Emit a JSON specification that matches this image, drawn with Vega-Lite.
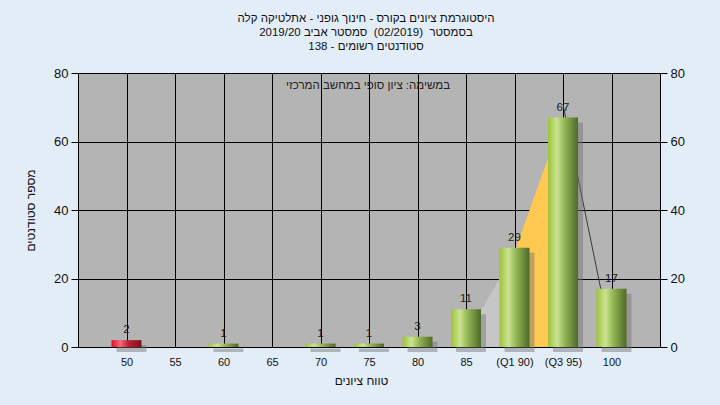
{
  "$schema": "https://vega.github.io/schema/vega-lite/v6.json",
  "width": 582,
  "height": 274,
  "autosize": "none",
  "padding": {"left": 78, "top": 73, "right": 60, "bottom": 58},
  "background": "#e3edf8",
  "config": {
    "font": "Liberation Sans",
    "view": {"fill": "#b4b4b4", "stroke": null}
  },
  "title": {
    "text": ["היסטוגרמת ציונים בקורס - חינוך גופני - אתלטיקה קלה", "בסמסטר \u00a0(02/2019)\u00a0 סמסטר אביב 2019/20", "סטודנטים רשומים - 138"],
    "fontSize": 11.5,
    "fontWeight": "normal",
    "color": "#111111",
    "anchor": "middle",
    "lineHeight": 14,
    "offset": 15,
    "dx": -3
  },
  "datasets": {
    "bars": [
      {"grade": 50, "count": 2, "kind": "fail"},
      {"grade": 55, "count": 0, "kind": "pass"},
      {"grade": 60, "count": 1, "kind": "pass"},
      {"grade": 65, "count": 0, "kind": "pass"},
      {"grade": 70, "count": 1, "kind": "pass"},
      {"grade": 75, "count": 1, "kind": "pass"},
      {"grade": 80, "count": 3, "kind": "pass"},
      {"grade": 85, "count": 11, "kind": "pass"},
      {"grade": 90, "count": 29, "kind": "pass"},
      {"grade": 95, "count": 67, "kind": "pass"},
      {"grade": 100, "count": 17, "kind": "pass"}
    ],
    "box": [
      {"grade": 85, "v": 3, "seg": "low"},
      {"grade": 90, "v": 27.5, "seg": "low"},
      {"grade": 90, "v": 27.7, "seg": "mid"},
      {"grade": 95, "v": 67.5, "seg": "mid"},
      {"grade": 95, "v": 70.8, "seg": "high"},
      {"grade": 100, "v": 1.7, "seg": "high"}
    ]
  },
  "resolve": {"axis": {"y": "independent"}},
  "layer": [
    {
      "data": {"name": "box"},
      "transform": [{"filter": "datum.seg == 'low'"}],
      "mark": {"type": "area", "color": "#c6c6c6", "opacity": 1},
      "encoding": {
        "x": {
          "field": "grade", "type": "quantitative",
          "scale": {"domain": [45, 105], "nice": false, "zero": false, "padding": 0},
          "axis": {
            "values": [50, 55, 60, 65, 70, 75, 80, 85, 90, 95, 100],
            "labelExpr": "datum.value == 90 ? '(Q1 90)' : datum.value == 95 ? '(Q3 95)' : datum.label",
            "grid": true, "gridColor": "#000000", "gridWidth": 1, "gridOpacity": 1,
            "domainColor": "#000000", "domainWidth": 1,
            "ticks": false, "tickSize": 0,
            "labelFontSize": 11, "labelColor": "#111111", "labelPadding": 9,
            "title": "טווח ציונים", "titleFontSize": 12, "titleFontWeight": "normal", "titleColor": "#111111", "titlePadding": 8, "titleX": 283
          }
        },
        "y": {
          "field": "v", "type": "quantitative",
          "scale": {"domain": [0, 80], "nice": false, "padding": 0},
          "axis": {
            "orient": "left",
            "values": [0, 20, 40, 60, 80],
            "grid": true, "gridColor": "#000000", "gridWidth": 1, "gridOpacity": 1,
            "domainColor": "#000000", "tickColor": "#000000", "tickSize": 7,
            "labelFontSize": 13, "labelColor": "#111111", "labelPadding": 3,
            "title": "מספר סטודנטים", "titleFontSize": 12, "titleFontWeight": "normal", "titleColor": "#111111", "titlePadding": 16
          }
        }
      }
    },
    {
      "data": {"name": "box"},
      "transform": [{"filter": "datum.seg == 'mid'"}],
      "mark": {"type": "area", "color": "#ffc850", "opacity": 1},
      "encoding": {
        "x": {"field": "grade", "type": "quantitative"},
        "y": {
          "field": "v", "type": "quantitative",
          "axis": {
            "orient": "right",
            "values": [0, 20, 40, 60, 80],
            "grid": false,
            "domainColor": "#000000", "tickColor": "#000000", "tickSize": 7,
            "labelFontSize": 13, "labelColor": "#111111", "labelPadding": 3,
            "title": null
          }
        }
      }
    },
    {
      "data": {"name": "box"},
      "transform": [{"filter": "datum.seg == 'high'"}],
      "mark": {"type": "line", "color": "#3a3a3a", "strokeWidth": 1},
      "encoding": {
        "x": {"field": "grade", "type": "quantitative"},
        "y": {"field": "v", "type": "quantitative", "axis": null}
      }
    },
    {
      "data": {"name": "bars"},
      "transform": [{"filter": "datum.count > 0"}],
      "mark": {"type": "bar", "orient": "vertical", "size": 30, "color": "#6e6e6e", "opacity": 0.45, "xOffset": 5, "yOffset": 5},
      "encoding": {
        "x": {"field": "grade", "type": "quantitative"},
        "y": {"field": "count", "type": "quantitative", "axis": null}
      }
    },
    {
      "data": {"name": "bars"},
      "transform": [{"filter": "datum.count > 0 && datum.kind == 'pass'"}],
      "mark": {
        "type": "bar", "orient": "vertical", "size": 30,
        "color": {"gradient": "linear", "x1": 0, "y1": 0, "x2": 1, "y2": 0,
          "stops": [
            {"offset": 0, "color": "#9cc43c"},
            {"offset": 0.3, "color": "#cbe391"},
            {"offset": 0.55, "color": "#95b656"},
            {"offset": 1, "color": "#4e6a27"}
          ]}
      },
      "encoding": {
        "x": {"field": "grade", "type": "quantitative"},
        "y": {"field": "count", "type": "quantitative", "axis": null}
      }
    },
    {
      "data": {"name": "bars"},
      "transform": [{"filter": "datum.count > 0 && datum.kind == 'fail'"}],
      "mark": {
        "type": "bar", "orient": "vertical", "size": 30,
        "color": {"gradient": "linear", "x1": 0, "y1": 0, "x2": 1, "y2": 0,
          "stops": [
            {"offset": 0, "color": "#e3101e"},
            {"offset": 0.3, "color": "#f56878"},
            {"offset": 0.55, "color": "#c42030"},
            {"offset": 1, "color": "#7e1018"}
          ]}
      },
      "encoding": {
        "x": {"field": "grade", "type": "quantitative"},
        "y": {"field": "count", "type": "quantitative", "axis": null}
      }
    },
    {
      "data": {"name": "bars"},
      "transform": [{"filter": "datum.count > 0"}],
      "mark": {"type": "text", "baseline": "bottom", "dy": -5, "fontSize": 11.5, "color": "#222222"},
      "encoding": {
        "x": {"field": "grade", "type": "quantitative"},
        "y": {"field": "count", "type": "quantitative", "axis": null},
        "text": {"field": "count", "type": "quantitative"}
      }
    },
    {
      "data": {"values": [{"note": "במשימה: ציון סופי במחשב המרכזי"}]},
      "mark": {"type": "text", "baseline": "middle", "align": "center", "fontSize": 11.5, "color": "#222222"},
      "encoding": {
        "x": {"datum": 74.9, "type": "quantitative"},
        "y": {"datum": 76.2, "type": "quantitative", "axis": null},
        "text": {"field": "note"}
      }
    }
  ]
}
